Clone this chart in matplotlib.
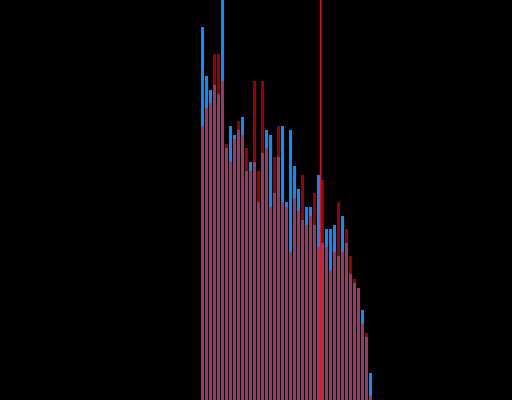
import matplotlib
matplotlib.use("Agg")
import matplotlib.pyplot as plt
import numpy as np

# counts per bin
blue_counts = [83, 72, 69, 70, 68, 95, 56, 61, 59, 60,
               63, 51, 53, 53, 44, 55, 60, 59, 46, 54,
               61, 44, 60, 52, 47, 40, 43, 43, 39, 50,
               35, 38, 38, 39, 32, 41, 35, 28, 26, 25,
               20, 14, 6]
red_counts = [61, 65, 66, 77, 77, 71, 57, 53, 58, 62,
              59, 56, 51, 71, 51, 71, 56, 43, 54, 61,
              44, 43, 33, 45, 42, 50, 39, 41, 46, 34,
              49, 34, 29, 33, 44, 33, 38, 32, 27, 25,
              17, 15, 1]
marker_x = 29.8

bins = np.arange(len(blue_counts))

fig = plt.figure(figsize=(5.12, 4.0), dpi=100, facecolor="black")
ax = fig.add_axes([0, 0, 1, 1])
ax.set_facecolor("black")

ax.bar(bins, blue_counts, width=0.78, align="edge", color="#0a8cff")
ax.bar(bins, red_counts, width=0.78, align="edge", color="#ff0000", alpha=0.6)
ax.axvline(marker_x, color="#ee1111", linewidth=1.0)

ax.set_xlim(-50.25, 77.75)
ax.set_ylim(0, 400 / 4.5)
ax.axis("off")

fig.savefig("out.png", dpi=100, facecolor="black")
